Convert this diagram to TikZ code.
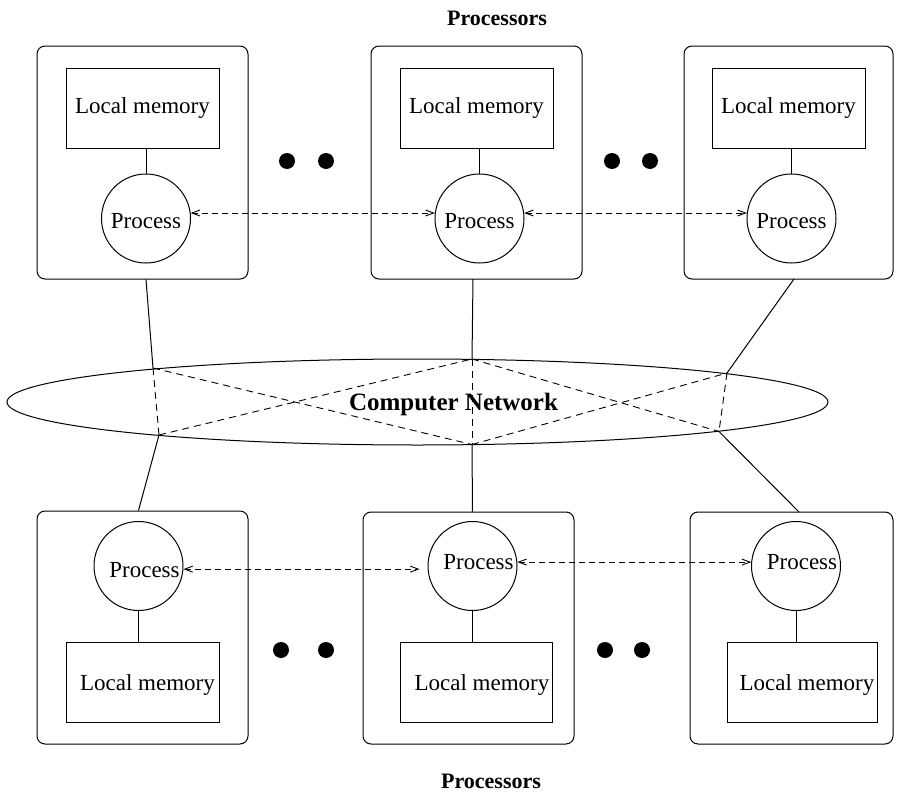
\documentclass[tikz,border=0pt]{standalone}
\usepackage{fontspec}
\setmainfont{Liberation Serif}
\usetikzlibrary{shapes.geometric,arrows.meta,calc}
\newcommand\txtsize{\fontsize{23}{27}\selectfont}
\begin{document}
\begin{tikzpicture}[x=1pt,y=-1pt,
  every node/.style={font=\txtsize},
  conn/.style={line width=1pt},
  procbox/.style={draw, rectangle, rounded corners=8pt, line width=1pt, inner sep=0pt},
  mem/.style={draw, rectangle, line width=1pt, inner sep=0pt, minimum height=80pt},
  proc/.style={draw, circle, line width=1pt, inner sep=0pt, minimum size=89pt},
  msg/.style={line width=0.9pt, dash pattern=on 6pt off 4pt,
    {Straight Barb[length=8pt,width=6pt]}-{Straight Barb[length=8pt,width=6pt]}},
  netlink/.style={line width=0.9pt, dash pattern=on 7pt off 5pt},
  blob/.style={circle, fill=black, inner sep=0pt, minimum size=16pt},
  title/.style={font=\bfseries\fontsize{22}{26}\selectfont}]
\useasboundingbox (0,0) rectangle (898,798);

% processor frames
\node[procbox, minimum width=211pt, minimum height=233pt] (T1) at (142.5,162.5) {};
\node[procbox, minimum width=211pt, minimum height=233pt] (T2) at (476.5,162.5) {};
\node[procbox, minimum width=209pt, minimum height=233pt] (T3) at (788.5,162.5) {};
\node[procbox, minimum width=211pt, minimum height=233pt] (B1) at (142.5,627.5) {};
\node[procbox, minimum width=211pt, minimum height=232pt] (B2) at (468.5,628) {};
\node[procbox, minimum width=203pt, minimum height=232pt] (B3) at (791.5,628) {};

% local memories
\node[mem, minimum width=153pt] (M1) at (142.5,108) {Local memory};
\node[mem, minimum width=153pt] (M2) at (476.5,108) {Local memory};
\node[mem, minimum width=153pt] (M3) at (788.5,108) {Local memory};
\node[mem, minimum width=153pt, label={[xshift=5pt,yshift=-3pt]center:Local memory}] (N1) at (142.5,682) {};
\node[mem, minimum width=152pt, label={[xshift=6pt,yshift=-3pt]center:Local memory}] (N2) at (476,682) {};
\node[mem, minimum width=150pt, label={[xshift=5pt,yshift=-3pt]center:Local memory}] (N3) at (802,682) {};

% processes
\node[proc, label={[yshift=-3pt]center:Process}] (C1) at (146,218.5) {};
\node[proc, label={[yshift=-3pt]center:Process}] (C2) at (479.5,218.5) {};
\node[proc, label={[yshift=-3pt]center:Process}] (C3) at (791.5,218.5) {};
\node[proc, label={[xshift=6pt,yshift=-4pt]center:Process}] (D1) at (138.5,566) {};
\node[proc, label={[xshift=6pt,yshift=4pt]center:Process}] (D2) at (472.5,566) {};
\node[proc, label={[xshift=6pt,yshift=4pt]center:Process}] (D3) at (796,566) {};

% memory -- process
\draw[conn] (M1.south -| C1) -- (C1.north);
\draw[conn] (M2.south -| C2) -- (C2.north);
\draw[conn] (M3.south -| C3) -- (C3.north);
\draw[conn] (D1.south) -- (N1.north -| D1);
\draw[conn] (D2.south) -- (N2.north -| D2);
\draw[conn] (D3.south) -- (N3.north -| D3);

% message passing
\draw[msg] (C1.7) -- (C2.173);
\draw[msg] (C2.7) -- (C3.173);
\draw[msg, shorten >=8pt] (D1.-4) -- (D2.184);
\draw[msg] (D2.5) -- (D3.175);

% ellipsis dots
\node[blob] (e1) at (287,161) {};
\node[blob] (e2) at (326,161) {};
\node[blob] (e3) at (612,161) {};
\node[blob] (e4) at (650,161) {};
\node[blob] (e5) at (281,650) {};
\node[blob] (e6) at (326,650) {};
\node[blob] (e7) at (605,650) {};
\node[blob] (e8) at (642,650) {};

% network
\node[draw, ellipse, line width=1pt, inner sep=0pt, minimum width=821pt, minimum height=86pt] (net) at (417.5,402) {};
\node[font=\bfseries\fontsize{25}{30}\selectfont] (netlabel) at (453.5,404) {Computer Network};

\coordinate (A) at (153,368);
\coordinate (B) at (472,359);
\coordinate (C) at (727,373);
\coordinate (D) at (159,435);
\coordinate (E) at (472,444.5);
\coordinate (F) at (719,431.5);
\coordinate (t2) at (473,279);
\coordinate (t3) at (794,279);
\coordinate (b3) at (799,512);

\draw[conn] (T1.south -| C1) -- (A);
\draw[conn] (t2) -- (B);
\draw[conn] (t3) -- (C);
\draw[conn] (D) -- (B1.north -| D1);
\draw[conn] (E) -- (B2.north -| D2);
\draw[conn] (F) -- (b3);

\draw[netlink] (A) -- (D);
\draw[netlink] (A) -- (E);
\draw[netlink] (D) -- (B);
\draw[netlink] (B) -- (E);
\draw[netlink] (B) -- (F);
\draw[netlink] (E) -- (C);
\draw[netlink] (C) -- (F);

% titles
\node[title] (toptitle) at (497,18) {Processors};
\node[title] (bottitle) at (491,781) {Processors};
\end{tikzpicture}
\end{document}
